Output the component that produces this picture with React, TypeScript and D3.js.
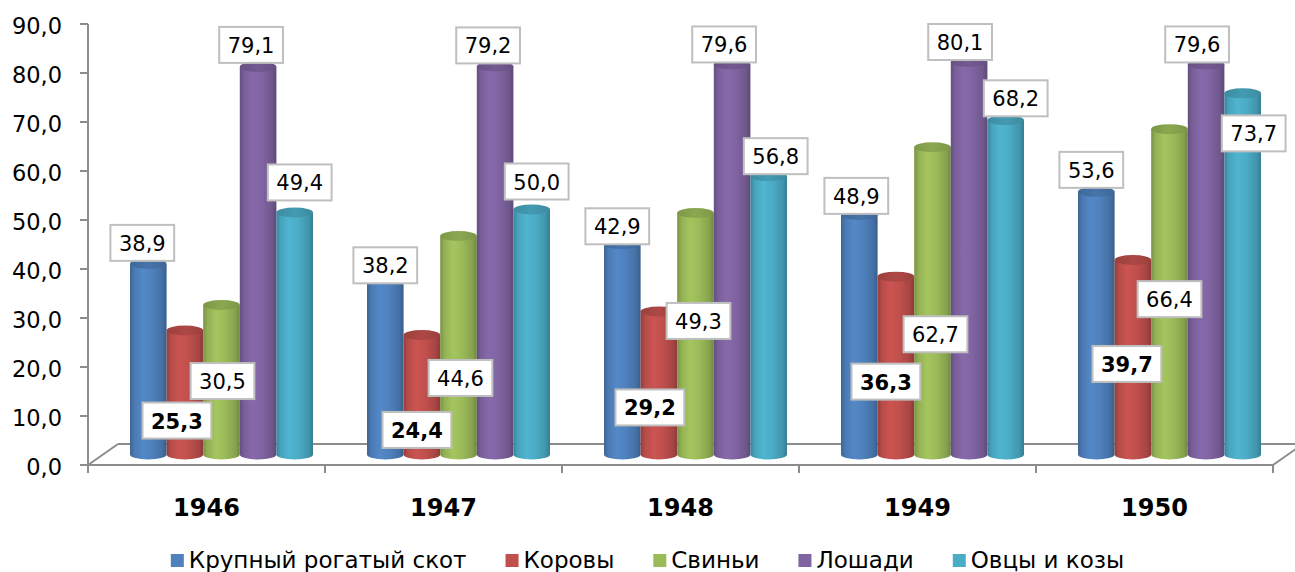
import React from "react";
import * as d3 from "d3";

const years = ["1946", "1947", "1948", "1949", "1950"];
const seriesNames = ["Крупный рогатый скот", "Коровы", "Свиньи", "Лошади", "Овцы и козы"];
const cattle = [38.9, 38.2, 42.9, 48.9, 53.6];
const cows = [25.3, 24.4, 29.2, 36.3, 39.7];
const pigs = [30.5, 44.6, 49.3, 62.7, 66.4];
const horses = [79.1, 79.2, 79.6, 80.1, 79.6];
const sheep = [49.4, 50.0, 56.8, 68.2, 73.7];
const seriesValues = [cattle, cows, pigs, horses, sheep];
const yTicks = [0, 10, 20, 30, 40, 50, 60, 70, 80, 90];

const colors = ["#4F81BD", "#C0504D", "#9BBB59", "#8064A2", "#4BACC6"];

// label placement offsets (px) relative to bar centre / bar top: [year][series]
const labelOffsets: [number, number][][] = [
  [[-6, -21], [-8, 90], [1, 76], [-7, -22], [5, -30]],
  [[0, -2], [-5, 95], [2, 142], [-7, -21], [5, -28]],
  [[-5, -18], [-9, 96], [3, 108], [-8, -20], [7, -20]],
  [[-3, -19], [-10, 105], [3, 187], [-9, -20], [10, -22]],
  [[-5, -22], [-6, 104], [0, 170], [-9, -20], [11, 40]],
];

const W = 1295;
const H = 572;
const FONT = "Verdana, 'DejaVu Sans', sans-serif";
const left = 88;
const right = 1273;
const y0 = 465;
const yTop = 24;
const depthX = 30;
const depthY = 21;

const fmt = (v: number) => v.toFixed(1).replace(".", ",");

let canvasCtx: CanvasRenderingContext2D | null = null;
function measure(text: string, font: string) {
  if (!canvasCtx) {
    const c = document.createElement("canvas");
    canvasCtx = c.getContext("2d");
  }
  if (!canvasCtx) return text.length * 12;
  canvasCtx.font = font;
  return canvasCtx.measureText(text).width;
}

export default function App() {
  const y = d3.scaleLinear().domain([0, 90]).range([y0, yTop]);
  const x0 = d3.scaleBand<string>().domain(years).range([left, right]).paddingInner(0);
  const bw = x0.bandwidth();
  const groupW = 183;
  const pad = (bw - groupW) / 2;
  const midDX = depthX / 2;
  const midDY = depthY / 2;

  const shade = (c: string, k: number) => {
    const col = d3.color(c)!;
    return k < 0 ? col.darker(-k).formatHex() : col.brighter(k).formatHex();
  };

  const legendFont = `23px ${FONT}`;
  const sq = 13;
  const gapSqText = 5;
  const gapItems = 39;
  const itemWidths = seriesNames.map((s) => sq + gapSqText + measure(s, legendFont));
  const totalLegend = d3.sum(itemWidths) + gapItems * (seriesNames.length - 1);
  let lx = (W - totalLegend) / 2;
  const legendItems = seriesNames.map((s, i) => {
    const item = { name: s, x: lx, color: colors[i] };
    lx += itemWidths[i] + gapItems;
    return item;
  });

  const labelFontSize = 21;

  return (
    <svg width={W} height={H} style={{ position: "absolute", left: 0, top: 0, background: "#fff" }} fontFamily={FONT}>
      <defs>
        {colors.map((c, i) => (
          <linearGradient key={i} id={`cyl${i}`} x1="0" x2="1" y1="0" y2="0">
            <stop offset="0%" stopColor={shade(c, -0.7)} />
            <stop offset="12%" stopColor={shade(c, -0.15)} />
            <stop offset="35%" stopColor={shade(c, 0.15)} />
            <stop offset="60%" stopColor={c} />
            <stop offset="88%" stopColor={shade(c, -0.4)} />
            <stop offset="100%" stopColor={shade(c, -0.9)} />
          </linearGradient>
        ))}
        {colors.map((c, i) => (
          <linearGradient key={"t" + i} id={`top${i}`} x1="0" x2="1" y1="0" y2="0">
            <stop offset="0%" stopColor={shade(c, -0.6)} />
            <stop offset="50%" stopColor={shade(c, -0.3)} />
            <stop offset="100%" stopColor={shade(c, -0.6)} />
          </linearGradient>
        ))}
      </defs>

      {/* floor */}
      <g stroke="#8c8c8c" strokeWidth={2} fill="none">
        <line x1={left} y1={y0} x2={left + depthX} y2={y0 - depthY} />
        <line x1={left + depthX} y1={y0 - depthY} x2={right + depthX} y2={y0 - depthY} />
        <line x1={right} y1={y0} x2={right + depthX} y2={y0 - depthY} />
        <line x1={left} y1={y0} x2={right} y2={y0} />
        <line x1={left} y1={y(90)} x2={left} y2={y0} />
        {yTicks.map((t) => (
          <line key={t} x1={left - 8} y1={y(t)} x2={left} y2={y(t)} />
        ))}
        {[...years.map((yr) => x0(yr)!), right].map((xx, i) => (
          <line key={i} x1={xx} y1={y0} x2={xx} y2={y0 + 8} />
        ))}
      </g>

      {/* y axis labels */}
      {yTicks.map((t) => (
        <text key={t} x={62} y={y(t) + 2} textAnchor="end" dominantBaseline="central" fontSize={22.5} fill="#000">
          {fmt(t)}
        </text>
      ))}

      {/* bars */}
      {years.map((yr, ci) => {
        const gx = x0(yr)! + pad + midDX;
        const x1 = d3.scaleBand<string>().domain(seriesNames).range([gx, gx + groupW]).paddingInner(0);
        const w = x1.bandwidth();
        const rx = w / 2;
        const ry = 5;
        return (
          <g key={yr}>
            {seriesNames.map((s, si) => {
              const v = seriesValues[si][ci];
              const bx = x1(s)!;
              const cx = bx + rx;
              const base = y(0) - midDY;
              const top = y(v) - midDY;
              const d = `M${bx},${top} L${bx},${base} A${rx},${ry} 0 0 0 ${bx + w},${base} L${bx + w},${top} Z`;
              return (
                <g key={s}>
                  <path d={d} fill={`url(#cyl${si})`} />
                  <ellipse cx={cx} cy={top} rx={rx} ry={ry} fill={`url(#top${si})`} />
                </g>
              );
            })}
          </g>
        );
      })}

      {/* data labels */}
      {years.map((yr, ci) => {
        const gx = x0(yr)! + pad + midDX;
        const x1 = d3.scaleBand<string>().domain(seriesNames).range([gx, gx + groupW]).paddingInner(0);
        return seriesNames.map((s, si) => {
          const v = seriesValues[si][ci];
          const cx = x1(s)! + x1.bandwidth() / 2 + labelOffsets[ci][si][0];
          const cy = y(v) - midDY + labelOffsets[ci][si][1];
          const bold = si === 1;
          const txt = fmt(v);
          const tw = measure(txt, `${bold ? "bold " : ""}${labelFontSize}px ${FONT}`);
          const bwid = tw + 17;
          const bh = 36;
          return (
            <g key={yr + s}>
              <rect x={cx - bwid / 2} y={cy - bh / 2} width={bwid} height={bh} fill="#fff" stroke="#bfbfbf" strokeWidth={2} />
              <text x={cx} y={cy + 1} textAnchor="middle" dominantBaseline="central" fontSize={labelFontSize} fontWeight={bold ? "bold" : "normal"} fill="#000">
                {txt}
              </text>
            </g>
          );
        });
      })}

      {/* category labels */}
      {years.map((yr) => (
        <text key={yr} x={x0(yr)! + bw / 2} y={508} textAnchor="middle" dominantBaseline="central" fontSize={24} fontWeight="bold" fill="#000">
          {yr}
        </text>
      ))}

      {/* legend */}
      {legendItems.map((it) => (
        <g key={it.name}>
          <rect x={it.x} y={554} width={sq} height={sq} fill={it.color} />
          <text x={it.x + sq + gapSqText} y={568} fontSize={23} fill="#000">
            {it.name}
          </text>
        </g>
      ))}
    </svg>
  );
}
